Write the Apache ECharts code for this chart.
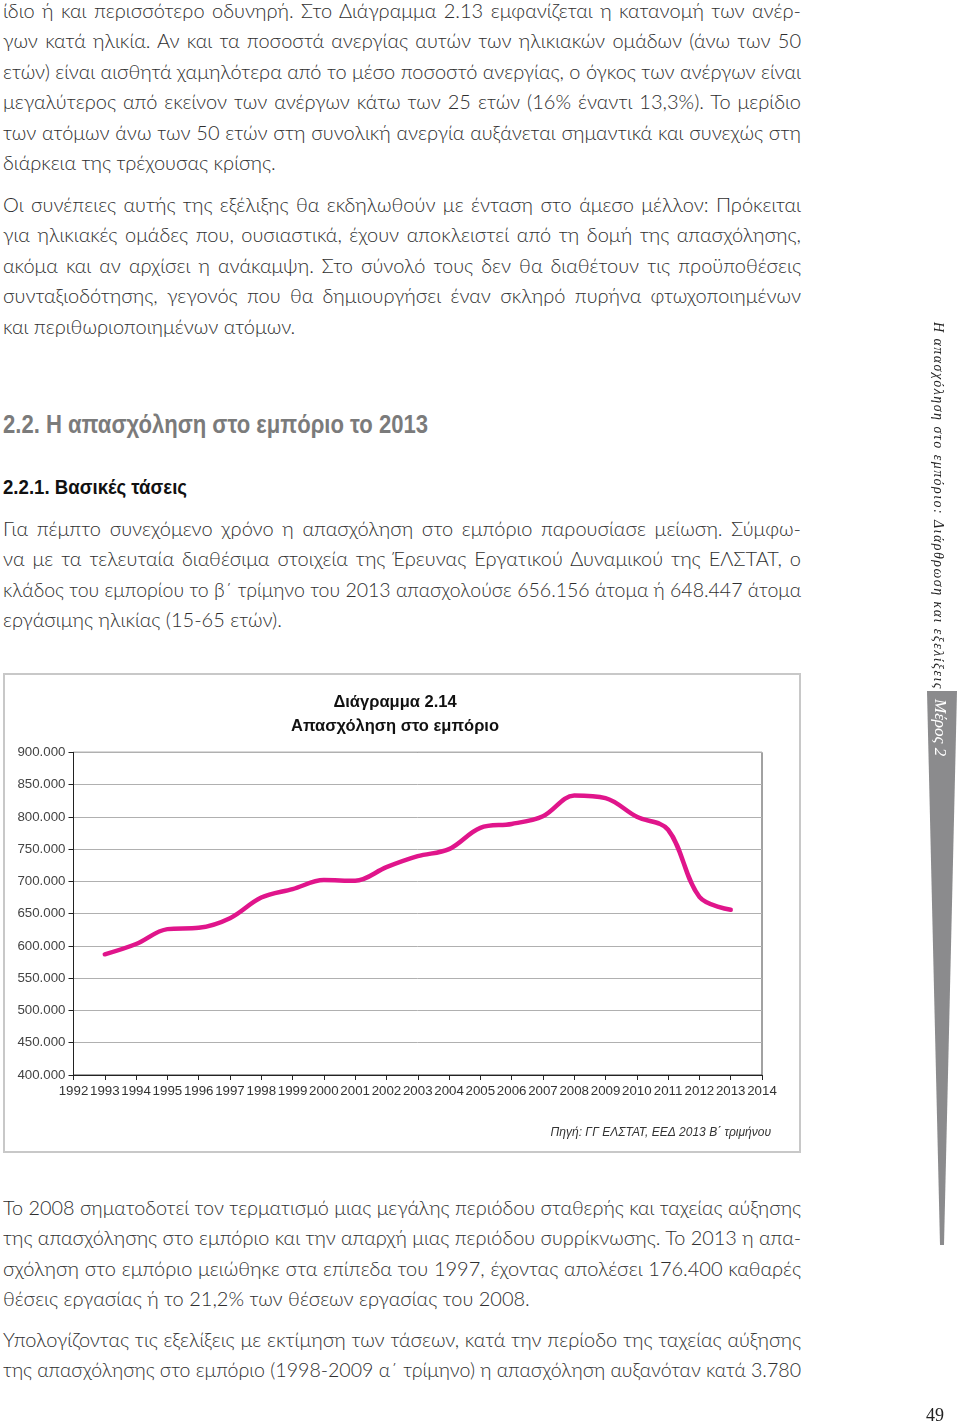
<!DOCTYPE html>
<html lang="el">
<head>
<meta charset="utf-8">
<script src="https://cdn.jsdelivr.net/npm/echarts@6/dist/echarts.min.js"></script>
<style>
  html, body { margin:0; padding:0; background:#fff; }
  body { width:960px; height:1427px; position:relative; overflow:hidden;
         font-family:"Lato","Liberation Sans",sans-serif; color:#333; }
  .para { position:absolute; left:3px; width:798px; font-size:20px; font-weight:300; color:#2e2e2e; }
  .ln { height:30.4px; line-height:30.4px; white-space:nowrap; }
  .ln.j { text-align:justify; text-align-last:justify; }
  .ln span { display:inline-block; transform-origin:0 50%; }
  .h2 { position:absolute; left:3px; font-family:"Liberation Sans",sans-serif; font-weight:bold; color:#7b7b7b; font-size:25px; white-space:nowrap; transform-origin:0 50%; }
  .h3 { position:absolute; left:3px; font-family:"Liberation Sans",sans-serif; font-weight:bold; color:#111; font-size:20px; white-space:nowrap; transform-origin:0 50%; }
  #box { position:absolute; left:3px; top:673px; width:798px; height:480px; border:2px solid #c8c8c8; box-sizing:border-box; }
  #chart { position:absolute; left:0; top:660px; width:820px; height:500px; }
  #side { position:absolute; top:322px; left:929px; writing-mode:vertical-rl; font-family:"Liberation Serif","DejaVu Serif",serif;
          font-style:italic; font-size:14px; color:#222; white-space:nowrap; line-height:18px; }
  #part { position:absolute; top:699px; left:930px; writing-mode:vertical-rl; font-family:"Liberation Serif","DejaVu Serif",serif;
          font-style:italic; font-size:17px; color:#fff; white-space:nowrap; line-height:20px; }
  #pg { position:absolute; left:926px; top:1405px; font-family:"Liberation Serif","DejaVu Serif",serif; font-size:18px; color:#222; }
</style>
</head>
<body>
<div id="content"></div>
<div id="box"></div>
<div id="chart"></div>
<svg style="position:absolute;left:0;top:0" width="960" height="1427">
  <polygon points="927,691 957,691 944,1245 940,1245" fill="#8b8b8d"/>
</svg>
<div id="side">Η απασχόληση στο εμπόριο: Διάρθρωση και εξελίξεις</div>
<div id="part">Μέρος 2</div>
<div id="pg">49</div>
<script>
// ---------------- DATA ----------------
const years = ['1992','1993','1994','1995','1996','1997','1998','1999','2000','2001','2002','2003','2004','2005','2006','2007','2008','2009','2010','2011','2012','2013','2014'];
const employment = [null, 587000, 603000, 626000, 628000, 643000, 675000, 688000, 702000, 701000, 722000, 739000, 750000, 783000, 789000, 801000, 833000, 829000, 800000, 780000, 676000, 656000, null];
const yMin = 400000, yMax = 900000, yStep = 50000;
const chartTitle = 'Διάγραμμα 2.14\nΑπασχόληση στο εμπόριο';
const sourceNote = 'Πηγή: ΓΓ ΕΛΣΤΑΤ, ΕΕΔ 2013 Β΄ τριμήνου';

const para1 = [
 'ίδιο ή και περισσότερο οδυνηρή. Στο Διάγραμμα 2.13 εμφανίζεται η κατανομή των ανέρ-',
 'γων κατά ηλικία. Αν και τα ποσοστά ανεργίας αυτών των ηλικιακών ομάδων (άνω των 50',
 'ετών) είναι αισθητά χαμηλότερα από το μέσο ποσοστό ανεργίας, ο όγκος των ανέργων είναι',
 'μεγαλύτερος από εκείνον των ανέργων κάτω των 25 ετών (16% έναντι 13,3%). Το μερίδιο',
 'των ατόμων άνω των 50 ετών στη συνολική ανεργία αυξάνεται σημαντικά και συνεχώς στη',
 'διάρκεια της τρέχουσας κρίσης.'];
const para2 = [
 'Οι συνέπειες αυτής της εξέλιξης θα εκδηλωθούν με ένταση στο άμεσο μέλλον: Πρόκειται',
 'για ηλικιακές ομάδες που, ουσιαστικά, έχουν αποκλειστεί από τη δομή της απασχόλησης,',
 'ακόμα και αν αρχίσει η ανάκαμψη. Στο σύνολό τους δεν θα διαθέτουν τις προϋποθέσεις',
 'συνταξιοδότησης, γεγονός που θα δημιουργήσει έναν σκληρό πυρήνα φτωχοποιημένων',
 'και περιθωριοποιημένων ατόμων.'];
const heading2 = '2.2. Η απασχόληση στο εμπόριο το 2013';
const heading3 = '2.2.1. Βασικές τάσεις';
const para3 = [
 'Για πέμπτο συνεχόμενο χρόνο η απασχόληση στο εμπόριο παρουσίασε μείωση. Σύμφω-',
 'να με τα τελευταία διαθέσιμα στοιχεία της Έρευνας Εργατικού Δυναμικού της ΕΛΣΤΑΤ, ο',
 'κλάδος του εμπορίου το β΄ τρίμηνο του 2013 απασχολούσε 656.156 άτομα ή 648.447 άτομα',
 'εργάσιμης ηλικίας (15-65 ετών).'];
const para4 = [
 'Το 2008 σηματοδοτεί τον τερματισμό μιας μεγάλης περιόδου σταθερής και ταχείας αύξησης',
 'της απασχόλησης στο εμπόριο και την απαρχή μιας περιόδου συρρίκνωσης. Το 2013 η απα-',
 'σχόληση στο εμπόριο μειώθηκε στα επίπεδα του 1997, έχοντας απολέσει 176.400 καθαρές',
 'θέσεις εργασίας ή το 21,2% των θέσεων εργασίας του 2008.'];
const para5 = [
 'Υπολογίζοντας τις εξελίξεις με εκτίμηση των τάσεων, κατά την περίοδο της ταχείας αύξησης',
 'της απασχόλησης στο εμπόριο (1998-2009 α΄ τρίμηνο) η απασχόληση αυξανόταν κατά 3.780'];

// ---------------- TEXT LAYOUT ----------------
const content = document.getElementById('content');
function addPara(lines, top, justifyLast) {
  const d = document.createElement('div');
  d.className = 'para'; d.style.top = top + 'px';
  lines.forEach((t, i) => {
    const l = document.createElement('div');
    const last = i === lines.length - 1;
    l.className = 'ln' + ((!last || justifyLast) ? ' j' : '');
    l.textContent = t;
    d.appendChild(l);
  });
  content.appendChild(d);
  d.querySelectorAll('.ln').forEach(l => {
    const s = document.createElement('span'); s.textContent = l.textContent; l.textContent = '';
    l.style.textAlign = 'left'; l.style.textAlignLast = 'auto'; l.appendChild(s);
    const w = s.getBoundingClientRect().width;
    if (w > 798) { s.style.transform = 'scaleX(' + (798 / w) + ')'; }
    else { l.textContent = s.textContent; l.style.textAlign = ''; l.style.textAlignLast = ''; }
  });
}
addPara(para1, -5, false);
addPara(para2, 189, false);
addPara(para3, 513, false);
addPara(para4, 1192, false);
addPara(para5, 1324, true);

function addHead(cls, text, top, width) {
  const h = document.createElement('div'); h.className = cls; h.textContent = text; h.style.top = top + 'px';
  content.appendChild(h);
  const w = h.getBoundingClientRect().width;
  h.style.transform = 'scaleX(' + (width / w) + ')';
}
addHead('h2', heading2, 410, 425);
addHead('h3', heading3, 476, 184);

(function(){
  const s = document.getElementById('side');
  const h = s.getBoundingClientRect().height;
  const n = s.textContent.length;
  s.style.letterSpacing = ((368 - h) / n) + 'px';
})();

// ---------------- CHART ----------------
const fmt = v => String(v).replace(/\B(?=(\d{3})+(?!\d))/g, '.');
const chart = echarts.init(document.getElementById('chart'), null, { renderer: 'canvas' });
chart.setOption({
  animation: false,
  title: {
    text: chartTitle, left: 390, top: 25, textAlign: 'center',
    textStyle: { fontFamily: 'Liberation Sans, Arial, sans-serif', fontWeight: 'bold', fontSize: 16.5, lineHeight: 24, color: '#111' }
  },
  grid: { left: 73.5, right: 58, top: 92.3, bottom: 85, show: true, borderColor: '#444', borderWidth: 1, backgroundColor: 'transparent' },
  xAxis: {
    type: 'category', data: years, boundaryGap: false,
    axisLine: { lineStyle: { color: '#222', width: 1 } },
    axisTick: { show: true, length: 5, alignWithLabel: true, lineStyle: { color: '#222' } },
    axisLabel: { interval: 0, margin: 10, fontFamily: 'Liberation Sans, Arial, sans-serif', fontSize: 13.3, color: '#333' },
    splitLine: { show: false }
  },
  yAxis: {
    type: 'value', min: yMin, max: yMax, interval: yStep,
    axisLine: { show: true, lineStyle: { color: '#222', width: 1 } },
    axisTick: { show: true, length: 5, inside: false, lineStyle: { color: '#222' } },
    axisLabel: { margin: 8, formatter: fmt, fontFamily: 'Liberation Sans, Arial, sans-serif', fontSize: 13.3, color: '#444' },
    splitLine: { show: true, lineStyle: { color: '#b0b0b0', width: 1 } }
  },
  graphic: [{
    type: 'text', right: 820 - 771, top: 1134 - 660 - 7,
    style: { text: sourceNote, font: 'italic 12px "Liberation Sans", Arial, sans-serif', fill: '#333' }
  }],
  series: [{
    type: 'line', data: employment, smooth: 0.35, symbol: 'none', connectNulls: false,
    lineStyle: { color: '#e0158b', width: 4.5, cap: 'round' }
  }]
});
</script>
</body>
</html>
